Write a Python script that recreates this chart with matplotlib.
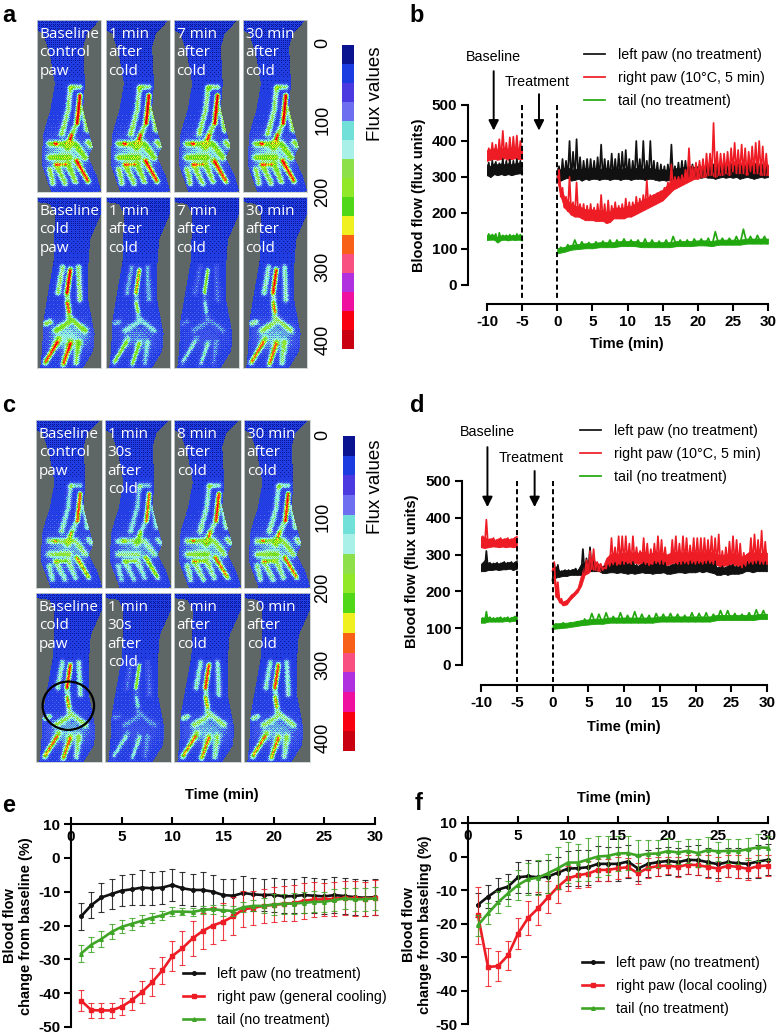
import numpy as np
import matplotlib
matplotlib.use('Agg')
import matplotlib.pyplot as plt
from matplotlib.colors import to_rgb
from matplotlib.colors import ListedColormap
from matplotlib.patches import Ellipse
from matplotlib.path import Path

plt.rcParams['font.family'] = ['Liberation Sans', 'DejaVu Sans']
plt.rcParams['axes.unicode_minus'] = False

W, H = 777, 1034

# colour scale
flux_ticks = [0, 100, 200, 300, 400]
flux_colors = ['#0a1490', '#1a3ce0', '#4a3ae0', '#6e6ef0', '#70e0d8', '#a8f0e8', '#8ee04a', '#90e828',
               '#50d818', '#f0f020', '#f86018', '#f85080', '#b030e0', '#f010a0', '#f80010', '#c80010']

# tile captions, with how strongly each paw perfuses
a_top = ['Baseline\ncontrol\npaw', '1 min\nafter\ncold', '7 min\nafter\ncold', '30 min\nafter\ncold']
a_bottom = ['Baseline\ncold\npaw', '1 min\nafter\ncold', '7 min\nafter\ncold', '30 min\nafter\ncold']
a_top_level = [1.0, 1.0, 1.0, 1.0]
a_bottom_level = [1.0, 0.68, 0.5, 0.9]
c_top = ['Baseline\ncontrol\npaw', '1 min\n30s\nafter\ncold', '8 min\nafter\ncold', '30 min\nafter\ncold']
c_bottom = ['Baseline\ncold\npaw', '1 min\n30s\nafter\ncold', '8 min\nafter\ncold', '30 min\nafter\ncold']
c_top_level = [0.82, 0.76, 0.88, 0.88]
c_bottom_level = [0.88, 0.5, 0.86, 0.86]

# panel b, baseline -10..-5 (upper and lower edge of the trace, every 0.5 min)
b_black_base_hi = [340, 345, 342, 338, 350, 345, 348, 345, 350, 345, 345]
b_black_base_lo = [305, 300, 308, 305, 308, 305, 308, 305, 308, 310, 310]
b_red_base_hi = [380, 395, 390, 405, 428, 395, 410, 412, 415, 400, 390]
b_red_base_lo = [345, 348, 350, 348, 350, 352, 348, 350, 352, 350, 350]
b_green_base_hi = [142, 140, 142, 145, 138, 138, 140, 138, 142, 140, 138]
b_green_base_lo = [125, 126, 126, 118, 125, 126, 124, 126, 125, 126, 124]
# panel b, 0..30 every 0.5 min
b_black_hi = [330, 350, 345, 400, 370, 405, 355, 345, 350, 350, 345, 355, 390, 350, 345, 365, 350, 365, 370, 375,
              350, 345, 400, 350, 400, 345, 400, 345, 340, 335, 330, 335, 390, 330, 340, 345, 345, 330, 335, 330,
              335, 330, 335, 330, 335, 335, 330, 335, 330, 335, 330, 335, 330, 330, 335, 330, 335, 330, 335, 330, 330]
b_black_lo = [295, 290, 295, 298, 290, 292, 295, 290, 295, 292, 295, 295, 292, 295, 295, 292, 295, 295, 292, 295,
              295, 292, 295, 295, 295, 292, 295, 295, 292, 290, 292, 290, 292, 292, 295, 295, 298, 298, 300, 298,
              300, 298, 300, 298, 298, 295, 298, 300, 298, 300, 298, 300, 295, 298, 300, 298, 295, 298, 300, 298, 300]
b_red_hi = [320, 270, 245, 300, 230, 285, 225, 225, 220, 225, 215, 225, 250, 225, 235, 220, 230, 220, 225, 240,
            230, 230, 245, 240, 250, 290, 250, 250, 255, 260, 270, 285, 335, 300, 300, 305, 320, 380, 330, 340,
            345, 350, 365, 365, 450, 370, 365, 365, 370, 380, 395, 375, 390, 380, 370, 385, 395, 400, 385, 365, 340]
b_red_lo = [290, 245, 215, 205, 195, 190, 190, 185, 180, 180, 180, 178, 178, 178, 172, 175, 185, 185, 185, 185,
            190, 190, 195, 200, 205, 210, 215, 220, 225, 230, 235, 245, 255, 265, 270, 275, 280, 285, 290, 295,
            295, 300, 300, 305, 305, 300, 305, 305, 310, 305, 315, 310, 310, 310, 305, 315, 310, 310, 305, 305, 305]
# panel b tail, 0..30 every 1 min
b_green_hi = [105, 112, 125, 120, 118, 120, 122, 125, 125, 128, 125, 125, 128, 125, 122, 125, 135, 125, 125, 128,
              128, 130, 148, 130, 130, 135, 155, 135, 138, 135, 132]
b_green_lo = [88, 92, 98, 100, 102, 102, 105, 105, 105, 108, 108, 108, 105, 105, 105, 105, 105, 108, 108, 108,
              110, 110, 108, 112, 112, 112, 112, 115, 115, 115, 115]

# panel d, same layout as b
d_black_base_hi = [275, 310, 278, 276, 278, 276, 280, 278, 280, 278, 285]
d_black_base_lo = [255, 255, 258, 258, 260, 258, 260, 260, 262, 258, 262]
d_red_base_hi = [350, 395, 342, 345, 340, 345, 342, 345, 342, 345, 355]
d_red_base_lo = [320, 318, 320, 322, 322, 320, 322, 320, 322, 320, 322]
d_green_base_hi = [128, 145, 130, 128, 128, 130, 128, 130, 128, 132, 132]
d_green_base_lo = [115, 115, 118, 118, 118, 118, 118, 120, 118, 120, 120]
d_black_hi = [275, 272, 255, 258, 258, 258, 262, 258, 315, 290, 320, 300, 275, 270, 268, 272, 275, 278, 272, 280,
              278, 275, 280, 272, 270, 278, 275, 272, 280, 278, 282, 278, 268, 272, 275, 278, 280, 278, 282, 278,
              280, 278, 280, 282, 278, 282, 265, 268, 265, 270, 272, 268, 268, 272, 280, 278, 280, 282, 278, 280, 282]
d_black_lo = [230, 238, 240, 242, 242, 245, 245, 245, 245, 250, 255, 255, 255, 255, 250, 250, 252, 252, 250, 252,
              250, 248, 250, 248, 250, 252, 250, 250, 248, 250, 250, 252, 248, 248, 250, 252, 252, 250, 252, 252,
              252, 255, 252, 255, 252, 250, 245, 245, 248, 245, 248, 248, 248, 250, 255, 255, 252, 255, 255, 255, 255]
d_red_hi = [280, 225, 180, 172, 178, 190, 198, 210, 245, 285, 310, 315, 280, 275, 265, 290, 345, 320, 350, 350,
            350, 330, 350, 320, 310, 345, 330, 315, 330, 350, 340, 320, 300, 340, 350, 330, 350, 345, 325, 345,
            345, 345, 345, 340, 350, 345, 355, 310, 320, 335, 350, 340, 330, 305, 300, 345, 355, 340, 365, 335, 330]
d_red_lo = [255, 185, 170, 162, 165, 178, 188, 198, 215, 245, 250, 260, 258, 255, 258, 262, 270, 275, 272, 275,
            275, 278, 275, 278, 275, 278, 275, 272, 275, 278, 275, 275, 272, 275, 278, 275, 275, 278, 275, 278,
            275, 278, 275, 278, 278, 275, 272, 268, 270, 272, 275, 272, 270, 265, 270, 278, 275, 278, 275, 275, 275]
d_green_hi = [112, 115, 115, 118, 125, 140, 138, 142, 132, 142, 135, 145, 138, 135, 140, 138, 140, 138, 135, 142,
              140, 142, 138, 148, 148, 140, 138, 142, 150, 148, 142]
d_green_lo = [98, 100, 102, 105, 108, 110, 112, 112, 115, 115, 115, 115, 115, 115, 115, 118, 118, 118, 118, 118,
              118, 118, 118, 122, 122, 122, 122, 122, 122, 125, 125]

# panel e, one value per minute from 1 to 30
minutes = list(range(1, 31))
e_black = [-17.3, -14, -11.7, -10.7, -9.7, -9.3, -8.8, -9, -8.8, -8, -9, -9.5, -9.5, -10, -11, -11.2, -10.4, -10.8,
           -11, -10.9, -11.4, -11.3, -11, -11.2, -11.4, -11, -11.3, -11.6, -11.8, -11.6]
e_black_err = [4, 3.8, 4.3, 4.3, 4.5, 4.6, 5.2, 4.8, 4.8, 4.8, 4.8, 4.8, 5.2, 4.8, 4.8, 4.9, 5, 4.8, 4.8, 5, 5, 5,
               5.2, 5.2, 5.2, 5.4, 5.3, 5.4, 5.3, 5.2]
e_red = [-42.2, -45, -45.1, -45.1, -44, -42.1, -39.7, -36.8, -33.3, -29, -26.7, -23.8, -21.6, -20, -18.9, -17.3,
         -15.2, -14.8, -14.2, -13.9, -13.6, -13.4, -12.7, -12.3, -12.3, -12.1, -11.8, -12, -12.1, -11.8]
e_red_err = [3.2, 2.2, 2.2, 2.2, 2.5, 2.8, 3.3, 4.1, 4, 4.4, 5.1, 5.2, 5.2, 5.5, 5.5, 5.6, 5.3, 5, 5, 5.2, 5.2, 5.4,
             5.4, 5.1, 5, 5, 5, 5.1, 5.1, 5.2]
e_green = [-28.3, -25.7, -24, -21.9, -20.4, -19.5, -18.6, -17.7, -17, -15.9, -15.9, -16, -15.4, -15.2, -15.5, -15.7,
           -14.6, -14.2, -14.2, -13.8, -13.6, -13.5, -13.3, -13, -13, -12.5, -12, -12.3, -12.2, -12]
e_green_err = [2.5, 2.2, 2.3, 2.2, 1.9, 1.7, 1.6, 1.5, 1.4, 1.3, 1, 1.1, 1.3, 1.3, 1.6, 1.5, 1.4, 1.6, 2.2, 3, 2.9,
               3, 3.1, 3.1, 3, 3.2, 3.2, 3.3, 3.4, 3.4]

# panel f
f_black = [-14.4, -12, -9.9, -9, -6.2, -5.9, -6.2, -6, -4.8, -3.6, -3.5, -3.2, -2.2, -2.2, -2.2, -1.5, -3.6, -2.2,
           -1.7, -1.3, -1.7, -1, -1.1, -1.7, -2.3, -1.7, -2, -2.2, -1.5, -1]
f_black_err = [3.6, 3.5, 3.5, 3.7, 4.7, 5, 5, 5, 4.8, 5.2, 5.3, 5.2, 5.2, 5.1, 5, 4.8, 3.8, 4, 4.2, 4.2, 4.1, 4.1,
               4.4, 4.3, 4.2, 4.3, 4.4, 4.1, 4.8, 4.6]
f_red = [-17.6, -33, -32.7, -29.5, -23, -18.4, -15.5, -12.2, -9, -6.5, -5.6, -5.1, -4, -4, -3.5, -3.2, -5, -3.4,
         -2.9, -2.7, -3.1, -2.4, -2.6, -3.1, -3.6, -2.8, -3.1, -3.7, -2.9, -2.7]
f_red_err = [8.4, 5.8, 4.5, 4.4, 4.5, 5, 5, 4.8, 4.9, 3.8, 3.9, 3.9, 3.4, 3.2, 3.3, 2.9, 3.1, 2.9, 2.9, 2.6, 2.9,
             2.8, 2.9, 3.4, 3.6, 3.2, 3.4, 3.2, 3.3, 3.1]
f_green = [-20.5, -17, -13.7, -11, -8.5, -6.8, -6.3, -5, -3.5, -1.8, -1.8, -0.9, 0, 0.2, 0.9, 1, 0.3, 0.8, 0.9, 1.6,
           1.2, 1.7, 1, 1.9, 1.5, 1.7, 1.6, 2.2, 2.7, 2.6]
f_green_err = [3.1, 3, 3.3, 3.8, 4.6, 4.8, 5.2, 5.8, 6.3, 6, 5.6, 6.5, 6, 5.8, 5.1, 5, 4.5, 4.2, 4.1, 3.8, 3.5, 3.6,
               4.2, 4, 2.9, 3.6, 3.7, 3.3, 3.9, 3.6]

BLACK, RED, GREEN = '#111111', '#ee1c25', '#22a80f'
GREEN2 = '#3fa526'
GRAY = '#5f6666'

# outline of the paw in the tile, 0..1 from the top left corner
outline_up = [(0, 0), (.98, 0), (.78, .08), (.72, .16), (.75, .37), (.72, .52), (.8, .64), (.86, .72), (.87, .74),
              (.8, .8), (.93, .9), (1, .99), (.95, 1), (.22, 1), (.08, .85), (.08, .76), (.1, .66), (.21, .52),
              (.28, .37), (.2, .2), (.1, .08), (0, .06)]
outline_down = [(0, 0), (1, 0), (1, .1), (.83, .25), (.8, .41), (.8, .6), (.9, .8), (.88, .9), (.72, 1), (.05, 1),
                (.08, .89), (.1, .72), (.26, .37), (.28, .1), (.2, .04), (0, .03)]
# side vessels, red streaks, hand glow (u, v, su, sv)
veins_up = [[(.52, .40), (.49, .52), (.39, .66)], [(.54, .39), (.67, .39)], [(.73, .52), (.78, .64)],
            [(.67, .44), (.62, .6), (.54, .67), (.48, .74)], [(.2, .72), (.6, .72), (.75, .8)], [(.2, .8), (.5, .8)],
            [(.8, .71), (.84, .73)], [(.62, .82), (.8, .94)], [(.49, .84), (.6, .94)], [(.31, .85), (.44, .95)],
            [(.2, .87), (.25, .95)]]
red_up = [[(.67, .44), (.63, .6)], [(.54, .67), (.52, .69)], [(.62, .82), (.79, .93)], [(.29, .84), (.44, .84)],
          [(.28, .72), (.3, .72)]]
glow_up = (.46, .78, .24, .07)
veins_down = [[(.4, .41), (.33, .56)], [(.65, .41), (.67, .6)], [(.52, .42), (.47, .56), (.5, .7)],
              [(.3, .78), (.55, .72), (.75, .78)], [(.34, .83), (.13, .97)], [(.52, .85), (.41, .98)],
              [(.65, .85), (.61, .97)], [(.2, .73), (.14, .74)]]
red_down = [[(.52, .43), (.47, .56)], [(.47, .62), (.5, .67)], [(.32, .85), (.14, .96)], [(.52, .86), (.42, .97)]]
glow_down = (.5, .82, .22, .06)
bayer = np.array([[0, 8, 2, 10], [12, 4, 14, 6], [3, 11, 1, 9], [15, 7, 13, 5]]) / 15.0


def fx(x):
    return x / W


def fy(y):
    return 1 - y / H


def axes_px(l, t, r, b):
    return fig.add_axes([fx(l), fy(b), fx(r - l), (b - t) / H])


def ridge(px, py, line):
    # distance of every pixel to a polyline
    d = np.full(px.shape, 1e9)
    for (x0, y0), (x1, y1) in zip(line[:-1], line[1:]):
        dx, dy = x1 - x0, y1 - y0
        k = np.clip(((px - x0) * dx + (py - y0) * dy) / (dx * dx + dy * dy), 0, 1)
        d = np.minimum(d, np.hypot(px - x0 - k * dx, py - y0 - k * dy))
    return d


def paw_image(nx, ny, level, up):
    outline = outline_up if up else outline_down
    veins = veins_up if up else veins_down
    reds = red_up if up else red_down
    gu, gv, su, sv = glow_up if up else glow_down
    u, v = np.meshgrid((np.arange(nx) + .5) / nx, (np.arange(ny) + .5) / ny)
    inside = Path(outline).contains_points(np.column_stack([u.ravel(), v.ravel()])).reshape(u.shape)
    px, py = u * nx, v * ny
    field = 0.8 + 0.9 * np.clip(v * 1.6, 0, 1)
    side = level ** 1.8
    for line in veins:
        scaled = [(x * nx, y * ny) for x, y in line]
        d = ridge(px, py, scaled)
        field = field + 4.4 * side * np.exp(-d ** 2 / (2 * 2.1 ** 2))
    field = field + 2.8 * side * np.exp(-((u - gu) / su) ** 2 / 2 - ((v - gv) / sv) ** 2 / 2)
    field = np.minimum(field, 8.6)
    for i, line in enumerate(reds):
        scaled = [(x * nx, y * ny) for x, y in line]
        d = ridge(px, py, scaled)
        amp = (level if i == 0 else side) * (9 if i == 0 else 6)
        field = field + amp * np.exp(-d ** 2 / (2 * 1.25 ** 2))
    tiled = bayer[np.arange(ny)[:, None] % 4, np.arange(nx)[None, :] % 4]
    idx = np.clip(np.round(field + (tiled - .5) * 1.8).astype(int), 0, 15)
    # no pink or violet inside the paws
    palette = np.array([to_rgb(c) for c in flux_colors])
    palette[2] = to_rgb('#2a40e4')
    palette[3] = to_rgb('#5068ec')
    palette[11:13] = to_rgb('#f86018')
    palette[13] = to_rgb('#f80010')
    rgb = palette[idx]
    rgb[~inside] = to_rgb(GRAY)
    return rgb


def tile(box, caption, level, up=True):
    ax = axes_px(*box)
    ax.imshow(paw_image(box[2] - box[0], box[3] - box[1], level, up), extent=(0, 1, 1, 0), aspect='auto',
              interpolation='bilinear')
    ax.set_xticks([])
    ax.set_yticks([])
    for s in ax.spines.values():
        s.set_color('#c8d0d0')
        s.set_linewidth(0.6)
    ax.text(0.04, 0.04, caption, color='white', fontsize=11, family='Open Sans', va='top', ha='left',
            linespacing=1.32)
    return ax


def color_bar(t, b, x0, tick_ys, label_y):
    ax = axes_px(x0, t, x0 + 12, b)
    ax.imshow(np.arange(16).reshape(-1, 1), cmap=ListedColormap(flux_colors), aspect='auto')
    ax.axis('off')
    for v, y in zip(flux_ticks, tick_ys):
        fig.text(fx(323), fy(y), str(v), rotation=90, fontsize=13, ha='center', va='center')
    fig.text(fx(376), fy(label_y), 'Flux values', rotation=90, fontsize=13.5, ha='center', va='center')


def zig(hi, lo, t0, t1):
    # trace runs up and down between its two edges
    n = len(hi)
    x = np.linspace(t0, t1, n)
    step = (t1 - t0) / (n - 1) / 2
    xs = np.ravel(np.column_stack([x, x + step]))[:-1]
    ys = np.ravel(np.column_stack([lo, hi]))[:-1]
    return xs, ys


def draw_trace(ax, hi, lo, t0, t1, c, core, label=None):
    lo = np.array(lo)
    xs, ys = zig(hi, lo, t0, t1)
    ax.fill_between(np.linspace(t0, t1, len(lo)), lo, np.minimum(hi, lo + core), color=c, lw=0.6)
    return ax.plot(xs, ys, color=c, lw=1.25, label=label)[0]


def trace_panel(box, base, after, arrows, titles, legend_pos, texts, dash_low):
    # box is l, t (value 500), r, y0 (value 0), axis line y
    l, t, r, y0, yaxis = box
    ax = axes_px(l, t, r, yaxis)
    ax.set_xlim(-10, 30)
    ax.set_ylim(-(yaxis - y0) / (y0 - t) * 500, 500)
    handles = []
    for (b_hi, b_lo), (a_hi, a_lo), c, core, name in zip(base, after, (BLACK, RED, GREEN), (30, 30, 14),
                                                         ('left paw (no treatment)', 'right paw (10°C, 5 min)',
                                                          'tail (no treatment)')):
        draw_trace(ax, b_hi, b_lo, -10, -5, c, core)
        handles.append(draw_trace(ax, a_hi, a_lo, 0, 30, c, core, name))
    for x in (-5, 0):
        ax.plot([x, x], [500, dash_low], color='k', lw=1.4, ls=(0, (2.6, 1.6)), clip_on=False)
    for x, y_from in arrows:
        ax.annotate('', xy=(x, 429), xytext=(x, y_from), annotation_clip=False,
                    arrowprops=dict(arrowstyle='-|>', color='k', lw=1.4, mutation_scale=15, shrinkA=0, shrinkB=0))
    for s in ('top', 'right'):
        ax.spines[s].set_visible(False)
    ax.spines['left'].set_position(('outward', 19 * 0.72))
    ax.spines['left'].set_bounds(0, 500)
    ax.spines['left'].set_linewidth(1.5)
    ax.spines['bottom'].set_linewidth(1.5)
    ax.set_xticks(range(-10, 31, 5))
    ax.set_yticks(range(0, 501, 100))
    ax.tick_params(length=4.8, width=1.5, labelsize=11, pad=3)
    for lab in ax.get_xticklabels() + ax.get_yticklabels():
        lab.set_fontweight('bold')
    for s, x, y in texts:
        fig.text(fx(x), fy(y), s, fontsize=10.3, ha='center', va='center')
    fig.text(fx(titles[0]), fy(titles[1]), 'Blood flow (flux units)', rotation=90, fontsize=10.5,
             fontweight='bold', ha='center', va='center')
    fig.text(fx(titles[2]), fy(titles[3]), 'Time (min)', fontsize=10.5, fontweight='bold', ha='center', va='center')
    ax.legend(handles=handles, loc='upper left', bbox_to_anchor=(fx(legend_pos[0]), fy(legend_pos[1])),
              bbox_transform=fig.transFigure, frameon=False, fontsize=10.3, borderpad=0, borderaxespad=0,
              handlelength=1.5, handletextpad=0.85, labelspacing=0.62)


def change_panel(box, series, names, title, ylabel, legend_pos):
    l, t, r, b = box
    ax = axes_px(l, t, r, b)
    ax.set_xlim(0, 30)
    ax.set_ylim(-50, 10)
    handles = []
    for (vals, errs), c, m, name in zip(series, (BLACK, RED, GREEN2), ('o', 's', '^'), names):
        ax.errorbar(minutes, vals, yerr=errs, color=c, lw=0, elinewidth=0.8, capsize=2.2, capthick=0.8, alpha=.85,
                    clip_on=False)
        h, = ax.plot(minutes, vals, color=c, lw=1.9, marker=m, ms=2.6, label=name, clip_on=False)
        handles.append(h)
    for s in ('top', 'right'):
        ax.spines[s].set_visible(False)
    ax.spines['bottom'].set_position(('data', 10))
    ax.spines['bottom'].set_linewidth(1.5)
    ax.spines['left'].set_linewidth(1.5)
    ax.set_xticks(range(0, 31, 5))
    ax.set_yticks(range(-50, 11, 10))
    ax.tick_params(axis='x', direction='in', length=4.8, width=1.5, labelsize=11, pad=4)
    ax.tick_params(axis='y', length=4.8, width=1.5, labelsize=11, pad=3)
    for lab in ax.get_xticklabels() + ax.get_yticklabels():
        lab.set_fontweight('bold')
    fig.text(fx(title[0]), fy(title[1]), 'Time (min)', fontsize=10.5, fontweight='bold', ha='center', va='center')
    fig.text(fx(ylabel[1]), fy(ylabel[2]), ylabel[0], rotation=90, fontsize=10.5, fontweight='bold',
             ha='center', va='center', linespacing=1.25, multialignment='center')
    ax.legend(handles=handles, loc='upper left', bbox_to_anchor=(fx(legend_pos[0]), fy(legend_pos[1])),
              bbox_transform=fig.transFigure, frameon=False, fontsize=10.3, borderpad=0, borderaxespad=0,
              handlelength=1.5, handletextpad=0.85, labelspacing=0.62)


fig = plt.figure(figsize=(W / 100, H / 100), dpi=100)

# thermal tiles a
a_cols = [(37, 101), (106, 170), (174, 239), (243, 307)]
for (x0, x1), cap, lev in zip(a_cols, a_top, a_top_level):
    tile((x0, 20, x1, 192), cap, lev)
for (x0, x1), cap, lev in zip(a_cols, a_bottom, a_bottom_level):
    tile((x0, 197, x1, 368), cap, lev, up=False)
color_bar(45, 349, 342, [43, 120, 192, 267, 340], 94)

# thermal tiles c
c_cols = [(36, 102), (105, 171), (174, 241), (244, 310)]
for (x0, x1), cap, lev in zip(c_cols, c_top, c_top_level):
    tile((x0, 420, x1, 588), cap, lev)
first = None
for (x0, x1), cap, lev in zip(c_cols, c_bottom, c_bottom_level):
    a = tile((x0, 593, x1, 762), cap, lev, up=False)
    if first is None:
        first = a
first.add_patch(Ellipse((.49, .667), .78, .286, fc='none', ec='k', lw=1.6))
color_bar(436, 751, 343, [435, 517, 588, 665, 738], 487)

trace_panel((487, 105, 768, 285, 304),
            [(b_black_base_hi, b_black_base_lo), (b_red_base_hi, b_red_base_lo), (b_green_base_hi, b_green_base_lo)],
            [(b_black_hi, b_black_lo), (b_red_hi, b_red_lo), (b_green_hi, b_green_lo)],
            [(-9.05, 594), (-2.6, 530)], (419, 195, 627, 344), (584, 48),
            [('Baseline', 493, 57), ('Treatment', 537, 82)], -42)
trace_panel((481, 481, 767, 665, 685),
            [(d_black_base_hi, d_black_base_lo), (d_red_base_hi, d_red_base_lo), (d_green_base_hi, d_green_base_lo)],
            [(d_black_hi, d_black_lo), (d_red_hi, d_red_lo), (d_green_hi, d_green_lo)],
            [(-9.1, 592), (-2.5, 527)], (412, 571, 624, 727), (580, 424),
            [('Baseline', 487, 432), ('Treatment', 531, 458)], -45)

change_panel((71, 824, 375, 1027), [(e_black, e_black_err), (e_red, e_red_err), (e_green, e_green_err)],
             ['left paw (no treatment)', 'right paw (general cooling)', 'tail (no treatment)'],
             (222, 795), ('Blood flow\nchange from baseline (%)', 18, 926), (183, 967))
change_panel((468, 823, 768, 1024), [(f_black, f_black_err), (f_red, f_red_err), (f_green, f_green_err)],
             ['left paw (no treatment)', 'right paw (local cooling)', 'tail (no treatment)'],
             (614, 798), ('Blood flow\nchange from baseling (%)', 417, 925), (582, 956))

for s, x, y in [('a', 9, 15), ('b', 417, 15), ('c', 9, 405), ('d', 417, 405), ('e', 9, 805), ('f', 419, 803)]:
    fig.text(fx(x), fy(y), s, fontsize=17, fontweight='bold', ha='center', va='center')

fig.savefig('out.png', dpi=100)
